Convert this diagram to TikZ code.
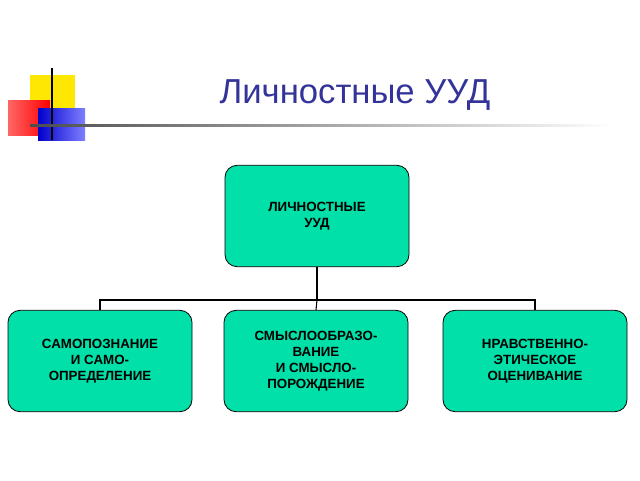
\documentclass[tikz,border=0pt]{standalone}
\usepackage{fontspec}
\setmainfont{Liberation Sans}
\usetikzlibrary{positioning}
\definecolor{boxgreen}{HTML}{00E0A8}
\definecolor{titleblue}{HTML}{333399}
\begin{document}
\begin{tikzpicture}[x=0.75pt,y=-0.75pt,
		% styles
		uudbox/.style={
				rectangle,
				rounded corners=9pt,
				draw=black,
				line width=0.6pt,
				fill=boxgreen,
				minimum width=138pt,
				minimum height=76pt,
				align=center,
				font=\fontsize{10}{12}\selectfont\bfseries
			},
		link/.style={line width=0.8pt, draw=black}
		]
		\useasboundingbox (0,0) rectangle (640,480);

		% logo
		\fill[yellow!90!orange] (30,75) rectangle (75,115);
		\shade[left color=red!60!white, right color=red] (8,100) rectangle (50,135);
		\shade[left color=blue!80!black, right color=blue!50!white] (38,108) rectangle (85,140);
		\draw[line width=1pt] (52,68) -- (52,140);
		\shade[left color=black!70, right color=white] (30,124) rectangle (615,126.5);

		% title
		\node[text=titleblue, font=\fontsize{26}{30}\selectfont] (title) at (355,95) {Личностные УУД};

		% boxes
		\node[uudbox] (top) at (317,216) {ЛИЧНОСТНЫЕ\\УУД};
		\node[uudbox] (self) at (100,361) {САМОПОЗНАНИЕ\\И САМО-\\ОПРЕДЕЛЕНИЕ};
		\node[uudbox] (sense) at (316,361) {СМЫСЛООБРАЗО-\\ВАНИЕ\\И СМЫСЛО-\\ПОРОЖДЕНИЕ};
		\node[uudbox] (moral) at (535,361) {НРАВСТВЕННО-\\ЭТИЧЕСКОЕ\\ОЦЕНИВАНИЕ};

		% connectors
		\coordinate (fork) at (317,300);
		\draw[link] (top.south) -- (fork);
		\draw[link] (fork) -| (self.north);
		\draw[link] (fork) -| (moral.north);
		\draw[link] (fork) -- (sense.north);

	\end{tikzpicture}
\end{document}
